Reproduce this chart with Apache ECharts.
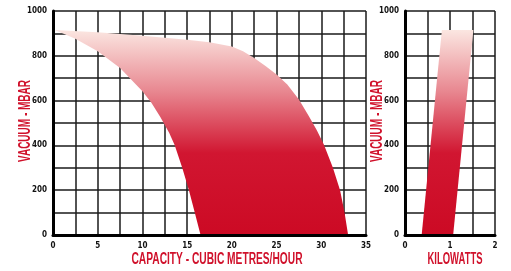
<!DOCTYPE html>
<html>
<head>
<meta charset="utf-8">
<script src="https://cdn.jsdelivr.net/npm/echarts@6/dist/echarts.min.js"></script>
<style>
  html, body { margin: 0; padding: 0; background: #fff; }
  #chart { width: 511px; height: 271px; }
</style>
</head>
<body>
<div id="chart"></div>
<script>
// capacity envelope: [cubic metres/hour, mbar]
const capacityUpper = [[0.2, 915], [5, 905], [10, 890], [15, 872], [17.5, 860], [20, 842], [21.25, 820],
  [22.5, 790], [23.8, 753], [25, 716], [26.2, 672], [27.5, 605], [28.6, 531], [29.5, 468], [30.3, 403],
  [31.3, 300], [32.1, 200], [32.6, 100], [33, 0]];
const capacityLower = [[0.2, 915], [2.5, 876], [5, 820], [7.5, 746], [10, 642], [11, 590], [12, 527],
  [13, 455], [13.6, 402], [14.45, 300], [15.2, 200], [15.85, 100], [16.5, 0]];
// power band: [kilowatts, mbar]
const powerLeft = [[0.37, 0], [0.82, 915]];
const powerRight = [[1.07, 0], [1.52, 915]];

const capTicks = { min: 0, max: 35, step: 2.5, label: 5 };
const kwTicks = { min: 0, max: 2, step: 0.5, label: 1 };
const yTitle = 'VACUUM - MBAR';
const capTitle = 'CAPACITY - CUBIC METRES/HOUR';
const kwTitle = 'KILOWATTS';

const RED = '#d0112b';
const FONT = "'Liberation Sans Narrow', 'DejaVu Sans Condensed', sans-serif";
const TITLE_FONT = "bold 16px 'Liberation Sans', Arial, sans-serif";

function bandFill() {
  return new echarts.graphic.LinearGradient(0, 0, 0, 1, [
    { offset: 0, color: '#fbe6e1' },
    { offset: 0.3, color: '#e88790' },
    { offset: 0.6, color: '#d11631' },
    { offset: 1, color: '#cc0a24' }
  ]);
}

function polygonSeries(idx, sideA, sideB) {
  return {
    type: 'custom',
    xAxisIndex: idx,
    yAxisIndex: idx,
    z: 2,
    silent: true,
    data: [[0, 0]],
    renderItem: function (params, api) {
      const pts = sideA.concat(sideB.slice().reverse()).map(p => api.coord(p));
      return { type: 'polygon', shape: { points: pts }, style: { fill: bandFill() } };
    }
  };
}

const gridLine = { show: true, lineStyle: { color: '#1a1a1a', width: 1.5 } };

function xAxisFor(gridIndex, t) {
  return {
    type: 'value', gridIndex: gridIndex, position: 'bottom', min: t.min, max: t.max, interval: t.step,
    axisLine: { show: false }, axisTick: { show: false },
    splitLine: gridLine,
    axisLabel: {
      margin: 7, color: '#111', fontFamily: FONT, fontWeight: 'bold', fontSize: 8,
      formatter: v => (Math.abs(v / t.label - Math.round(v / t.label)) < 1e-6 ? String(v) : '')
    }
  };
}

// thick base line drawn over the fill
function xLineFor(gridIndex, t) {
  return {
    type: 'value', gridIndex: gridIndex, position: 'bottom', min: t.min, max: t.max, z: 5,
    axisLine: { show: true, onZero: false, lineStyle: { color: '#000', width: 3 } },
    axisTick: { show: false }, axisLabel: { show: false }, splitLine: { show: false }
  };
}

function yAxisFor(gridIndex) {
  return {
    type: 'value', gridIndex: gridIndex, min: 0, max: 1000, interval: 100,
    axisLine: { show: true, lineStyle: { color: '#000', width: 3 } },
    axisTick: { show: false },
    splitLine: gridLine,
    axisLabel: {
      margin: 6, color: '#111', fontFamily: FONT, fontWeight: 'bold', fontSize: 8,
      formatter: v => (v % 200 === 0 ? String(v) : '')
    }
  };
}

// squeeze a title to the condensed width of the original lettering
const measureCtx = document.createElement('canvas').getContext('2d');
function title(text, cx, cy, width, vertical) {
  measureCtx.font = TITLE_FONT;
  const w = measureCtx.measureText(text).width;
  return {
    type: 'text', x: cx, y: cy, scaleX: width / w, rotation: vertical ? Math.PI / 2 : 0,
    style: { text: text, font: TITLE_FONT, fill: RED, align: 'center', verticalAlign: 'middle' }
  };
}

const chart = echarts.init(document.getElementById('chart'), null, { renderer: 'canvas' });

chart.setOption({
  animation: false,
  backgroundColor: '#fff',
  grid: [
    { left: 53, top: 11, width: 313, bottom: 36 },
    { left: 405, top: 11, width: 90, bottom: 36 }
  ],
  xAxis: [
    xAxisFor(0, capTicks),
    xAxisFor(1, kwTicks),
    xLineFor(0, capTicks),
    xLineFor(1, kwTicks)
  ],
  yAxis: [yAxisFor(0), yAxisFor(1)],
  series: [
    polygonSeries(0, capacityUpper, capacityLower),
    polygonSeries(1, powerLeft, powerRight)
  ],
  graphic: [
    title(yTitle, 26, 121, 82, true),
    title(yTitle, 378, 121, 82, true),
    title(capTitle, 217, 259.5, 171, false),
    title(kwTitle, 455, 259.5, 55, false)
  ]
});
</script>
</body>
</html>
